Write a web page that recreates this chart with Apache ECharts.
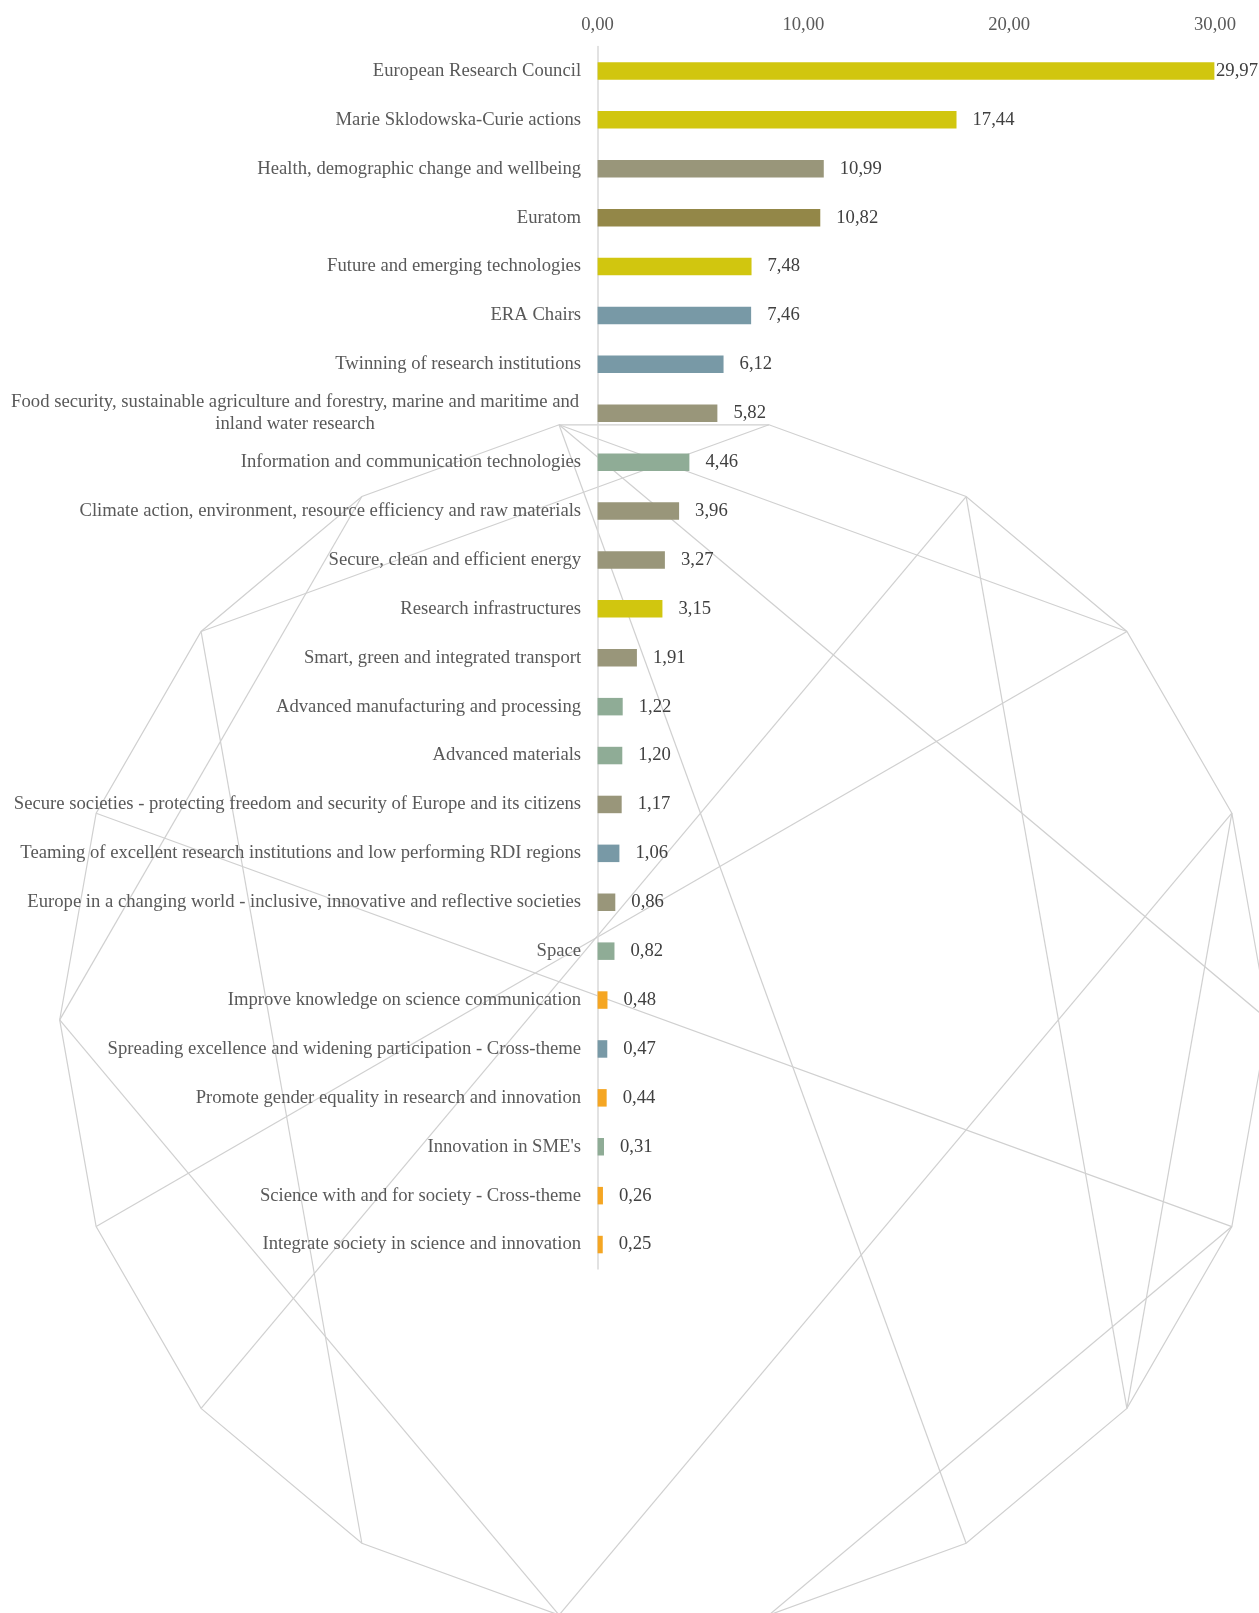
<!DOCTYPE html>
<html>
<head>
<meta charset="utf-8">
<script src="https://cdn.jsdelivr.net/npm/echarts@6/dist/echarts.min.js"></script>
<style>
  html, body { margin: 0; padding: 0; background: #ffffff; }
  #chart { width: 1259px; height: 1613px; }
</style>
</head>
<body>
<div id="chart"></div>
<script>
// ---------------- DATA ----------------
const categories = [
  "European Research Council",
  "Marie Sklodowska-Curie actions",
  "Health, demographic change and wellbeing",
  "Euratom",
  "Future and emerging technologies",
  "ERA Chairs",
  "Twinning of research institutions",
  "Food security, sustainable agriculture and forestry, marine and maritime and inland water research",
  "Information and communication technologies",
  "Climate action, environment, resource efficiency and raw materials",
  "Secure, clean and efficient energy",
  "Research infrastructures",
  "Smart, green and integrated transport",
  "Advanced manufacturing and processing",
  "Advanced materials",
  "Secure societies - protecting freedom and security of Europe and its citizens",
  "Teaming of excellent research institutions and low performing RDI regions",
  "Europe in a changing world - inclusive, innovative and reflective societies",
  "Space",
  "Improve knowledge on science communication",
  "Spreading excellence and widening participation - Cross-theme",
  "Promote gender equality in research and innovation",
  "Innovation in SME's",
  "Science with and for society - Cross-theme",
  "Integrate society in science and innovation"
];

const values = [
  29.97, 17.44, 10.99, 10.82, 7.48, 7.46, 6.12, 5.82, 4.46, 3.96, 3.27, 3.15, 1.91,
  1.22, 1.20, 1.17, 1.06, 0.86, 0.82, 0.48, 0.47, 0.44, 0.31, 0.26, 0.25
];

const groups = [
  "Excellent science", "Excellent science", "Societal challenges", "Euratom",
  "Excellent science", "Widening", "Widening", "Societal challenges",
  "Industrial leadership", "Societal challenges", "Societal challenges",
  "Excellent science", "Societal challenges", "Industrial leadership",
  "Industrial leadership", "Societal challenges", "Widening", "Societal challenges",
  "Industrial leadership", "Science with and for society", "Widening",
  "Science with and for society", "Industrial leadership",
  "Science with and for society", "Science with and for society"
];

const xTickMin = 0;
const xTickMax = 30;
const xTickStep = 10;

// ---------------- STYLE ----------------
const groupColors = {
  "Excellent science": "#D1C60F",
  "Societal challenges": "#99967A",
  "Euratom": "#938748",
  "Widening": "#7899A6",
  "Industrial leadership": "#8FAC96",
  "Science with and for society": "#F5A623"
};

const FONT = "'Times New Roman', 'Liberation Serif', 'DejaVu Serif', serif";
const FS = 18.67;
const W = 1259, H = 1613;

function fmt(v) { return v.toFixed(2).replace('.', ','); }

function wrap(text, maxChars) {
  const words = text.split(' ');
  const lines = [];
  let cur = '';
  words.forEach(w => {
    const t = cur ? cur + ' ' + w : w;
    if (t.length > maxChars && cur) { lines.push(cur); cur = w; } else { cur = t; }
  });
  if (cur) lines.push(cur);
  return lines;
}

// ---------------- DECORATION (18-gon with chords) ----------------
const deco = (function () {
  const cx = 664.0, cy = 1019.9, r = 604.3;
  const n = 18;
  const pt = k => {
    const a = (k * 20) * Math.PI / 180;
    return [cx + r * Math.cos(a), cy - r * Math.sin(a)];
  };
  const ring = [];
  for (let k = 0; k < n; k++) ring.push(pt(k));
  const chords = [[5,2],[5,0],[5,15],[4,7],[6,9],[3,11],[3,16],[2,10],[1,13],[1,16],[8,17],[17,14],[7,12],[9,13]];
  const style = { stroke: '#d0d0d0', lineWidth: 1.2, fill: null };
  const els = [{ type: 'polygon', shape: { points: ring }, style: Object.assign({}, style), silent: true, z: -10 }];
  chords.forEach(([a, b]) => {
    const p = pt(a), q = pt(b);
    els.push({ type: 'line', shape: { x1: p[0], y1: p[1], x2: q[0], y2: q[1] }, style: Object.assign({}, style), silent: true, z: -10 });
  });
  return els;
})();

// ---------------- CHART ----------------
const chart = echarts.init(document.getElementById('chart'), null, { renderer: 'canvas', width: W, height: H });

const option = {
  backgroundColor: '#ffffff',
  animation: false,
  graphic: { elements: deco },
  grid: { left: 597.6, right: 44, top: 46.5, bottom: 344, containLabel: false },
  xAxis: {
    type: 'value',
    position: 'top',
    min: xTickMin, max: xTickMax, interval: xTickStep,
    axisLine: { show: false },
    axisTick: { show: false },
    splitLine: { show: false },
    axisLabel: {
      margin: 12,
      color: '#595959',
      fontFamily: FONT,
      fontSize: FS,
      formatter: v => fmt(v)
    }
  },
  yAxis: {
    type: 'category',
    data: categories,
    inverse: true,
    axisTick: { show: false },
    axisLine: { show: true, lineStyle: { color: '#d9d9d9', width: 1.5 } },
    axisLabel: {
      margin: 16.5,
      color: '#595959',
      fontFamily: FONT,
      fontSize: FS,
      formatter: function (v) {
        const lines = wrap(v, 77);
        if (lines.length === 1) return v;
        return lines.map(l => '{c|' + l + '}').join('\n');
      },
      rich: {
        c: { width: 572, align: 'center', fontFamily: FONT, fontSize: FS, color: '#595959', lineHeight: 21.5 }
      }
    }
  },
  series: [{
    type: 'bar',
    barWidth: 17.5,
    data: values.map((v, i) => ({ value: v, itemStyle: { color: groupColors[groups[i]] } })),
    label: {
      show: true,
      position: 'right',
      distance: 16,
      color: '#404040',
      fontFamily: FONT,
      fontSize: FS,
      formatter: p => fmt(p.value)
    },
    labelLayout: function (params) {
      const r = params.labelRect;
      if (r.x + r.width > W - 1) {
        return { x: W - 1 - r.width, y: r.y + r.height / 2, align: 'left', verticalAlign: 'middle' };
      }
      return {};
    }
  }]
};

chart.setOption(option);
</script>
</body>
</html>
